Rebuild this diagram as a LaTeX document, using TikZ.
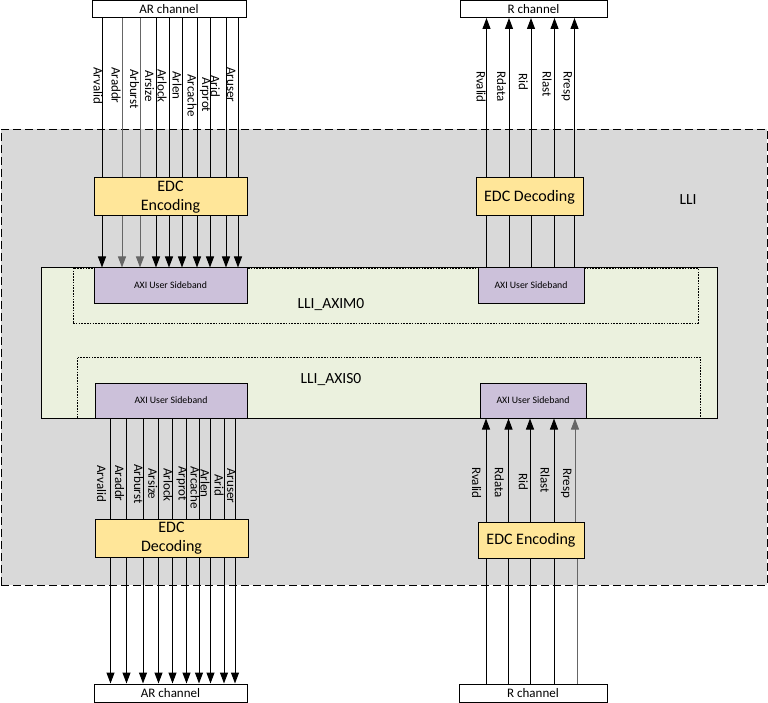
\documentclass[tikz,border=0pt]{standalone}
\usepackage{fontspec}
\setmainfont{Carlito}
\usetikzlibrary{arrows.meta}

\definecolor{lligray}{HTML}{D9D9D9}
\definecolor{ctrlgreen}{HTML}{EBF1DE}
\definecolor{edcyellow}{HTML}{FFE699}
\definecolor{sbpurple}{HTML}{CCC1DA}
\definecolor{wiregray}{HTML}{666666}

\begin{document}
\begin{tikzpicture}[x=1pt, y=-1pt,
    box/.style={draw, line width=1pt, inner sep=0pt, align=center},
    chanbox/.style={box, fill=white, font=\fontsize{13}{15}\selectfont},
    edcbox/.style={box, fill=edcyellow, font=\fontsize{16}{19}\selectfont},
    sbbox/.style={box, fill=sbpurple, minimum height=35pt, font=\fontsize{9.8}{12}\selectfont},
    portbox/.style={draw, line width=0.8pt, dash pattern=on 1.6pt off 1.2pt, inner sep=0pt},
    siglabel/.style={rotate=-90, anchor=west, inner sep=0pt, font=\fontsize{13}{15}\selectfont},
    sigline/.style={line width=1pt},
    sigarrow/.style={sigline, -{Triangle[length=11pt, width=8pt]}}]
      \useasboundingbox (0,0) rectangle (768,703);

      % LLI area
      \node[draw, fill=lligray, line width=0.9pt, dash pattern=on 8pt off 4pt,
        minimum width=766pt, minimum height=456pt] (lli) at (384,357) {};
      \node[font=\fontsize{15.5}{18}\selectfont] (llilabel) at (688,200) {LLI};

      % Controller with master and slave ports
      \node[box, fill=ctrlgreen, minimum width=676pt, minimum height=150pt] (ctrl) at (379,343) {};
      \node[portbox, minimum width=625pt, minimum height=55pt] (axim) at (385.5,295.5) {};
      \node[portbox, minimum width=623pt, minimum height=61pt] (axis) at (388.5,387.5) {};
      \node[font=\fontsize{15.5}{18}\selectfont] (aximlabel) at (331,305) {LLI\_AXIM0};
      \node[font=\fontsize{15.5}{18}\selectfont] (axislabel) at (331,380) {LLI\_AXIS0};

      % Sidebands
      \node[sbbox, minimum width=153pt] (sbml) at (170.5,285.5) {AXI User Sideband};
      \node[sbbox, minimum width=106pt] (sbmr) at (531,285.5) {AXI User Sideband};
      \node[sbbox, minimum width=152pt] (sbsl) at (171,400.5) {AXI User Sideband};
      \node[sbbox, minimum width=106pt] (sbsr) at (533,400.5) {AXI User Sideband};

      % EDC blocks
      \node[edcbox, minimum width=153pt, minimum height=38pt] (encml) at (170.5,197) {EDC\\Encoding};
      \node[edcbox, minimum width=107pt, minimum height=38pt] (decmr) at (529.5,197) {EDC Decoding};
      \node[edcbox, minimum width=153pt, minimum height=38pt] (decsl) at (171.5,538) {EDC\\Decoding};
      \node[edcbox, minimum width=106pt, minimum height=36pt] (encsr) at (531,540) {EDC Encoding};

      % Channels
      \node[chanbox, minimum width=154pt, minimum height=16.5pt] (armt) at (169,9.25) {AR channel};
      \node[chanbox, minimum width=147pt, minimum height=16.5pt] (rmt) at (533.5,9.25) {R channel};
      \node[chanbox, minimum width=153pt, minimum height=18pt] (arsb) at (170.5,693) {AR channel};
      \node[chanbox, minimum width=148pt, minimum height=18pt] (rsb) at (533,693) {R channel};

      % AR wires, master side
      \foreach \x/\c in {102/black, 122/wiregray, 140/wiregray, 156/black, 169/black,
                         182/black, 197/black, 210/black, 226/black, 238/black} {
        \draw[sigline, \c] (armt.south -| \x,0) -- (encml.north -| \x,0);
        \draw[sigarrow, \c] (encml.south -| \x,0) -- (sbml.north -| \x,0);
      };
      \foreach \x/\y/\t in {98/67/Arvalid, 116/67/Araddr, 134.7/69/Arburst, 149.5/70.7/Arsize,
                            162.2/69/Arlock, 177.2/71/Arlen, 192/74/Arcache, 205.3/77.7/Arprot,
                            215.3/75/Arid, 231.3/67/Aruser} {
        \node[siglabel] (m\t) at (\x,\y) {\t};
      };

      % R wires, master side
      \foreach \x in {486.5, 509, 531, 554.5, 574.5} {
        \draw[sigline] (sbmr.north -| \x,0) -- (decmr.south -| \x,0);
        \draw[sigarrow] (decmr.north -| \x,0) -- (rmt.south -| \x,0);
      };
      \foreach \x/\y/\t in {481/71/Rvalid, 501.7/71/Rdata, 523.3/73/Rid, 547/71/Rlast, 566.7/71/Rresp} {
        \node[siglabel] (m\t) at (\x,\y) {\t};
      };

      % AR wires, slave side
      \foreach \x in {110.5, 126.5, 143, 158.5, 172.5, 186.5, 199, 210.5, 224, 235} {
        \draw[sigline] (sbsl.south -| \x,0) -- (decsl.north -| \x,0);
        \draw[sigarrow] (decsl.south -| \x,0) -- (arsb.north -| \x,0);
      };
      \foreach \x/\y/\t in {101.7/465/Arvalid, 119.7/465/Araddr, 138.7/464/Arburst, 152.8/468/Arsize,
                            168/468/Arlock, 181.7/466/Arprot, 195/466/Arcache, 205/469/Arlen,
                            219/474/Arid, 231.3/468/Aruser} {
        \node[siglabel] (s\t) at (\x,\y) {\t};
      };

      % R wires, slave side
      \foreach \x/\xb/\c in {486/486/black, 508.5/508.5/black, 530/530/black,
                             554/554/black, 575/577.5/wiregray} {
        \draw[sigline, \c] (rsb.north -| \xb,0) -- (encsr.south -| \xb,0);
        \draw[sigarrow, \c] (encsr.north -| \x,0) -- (sbsr.south -| \x,0);
      };
      \foreach \x/\y/\t in {476.7/467/Rvalid, 499.3/467/Rdata, 523.3/473/Rid, 545.2/467/Rlast, 566.3/468/Rresp} {
        \node[siglabel] (s\t) at (\x,\y) {\t};
      };
    \end{tikzpicture}
\end{document}
